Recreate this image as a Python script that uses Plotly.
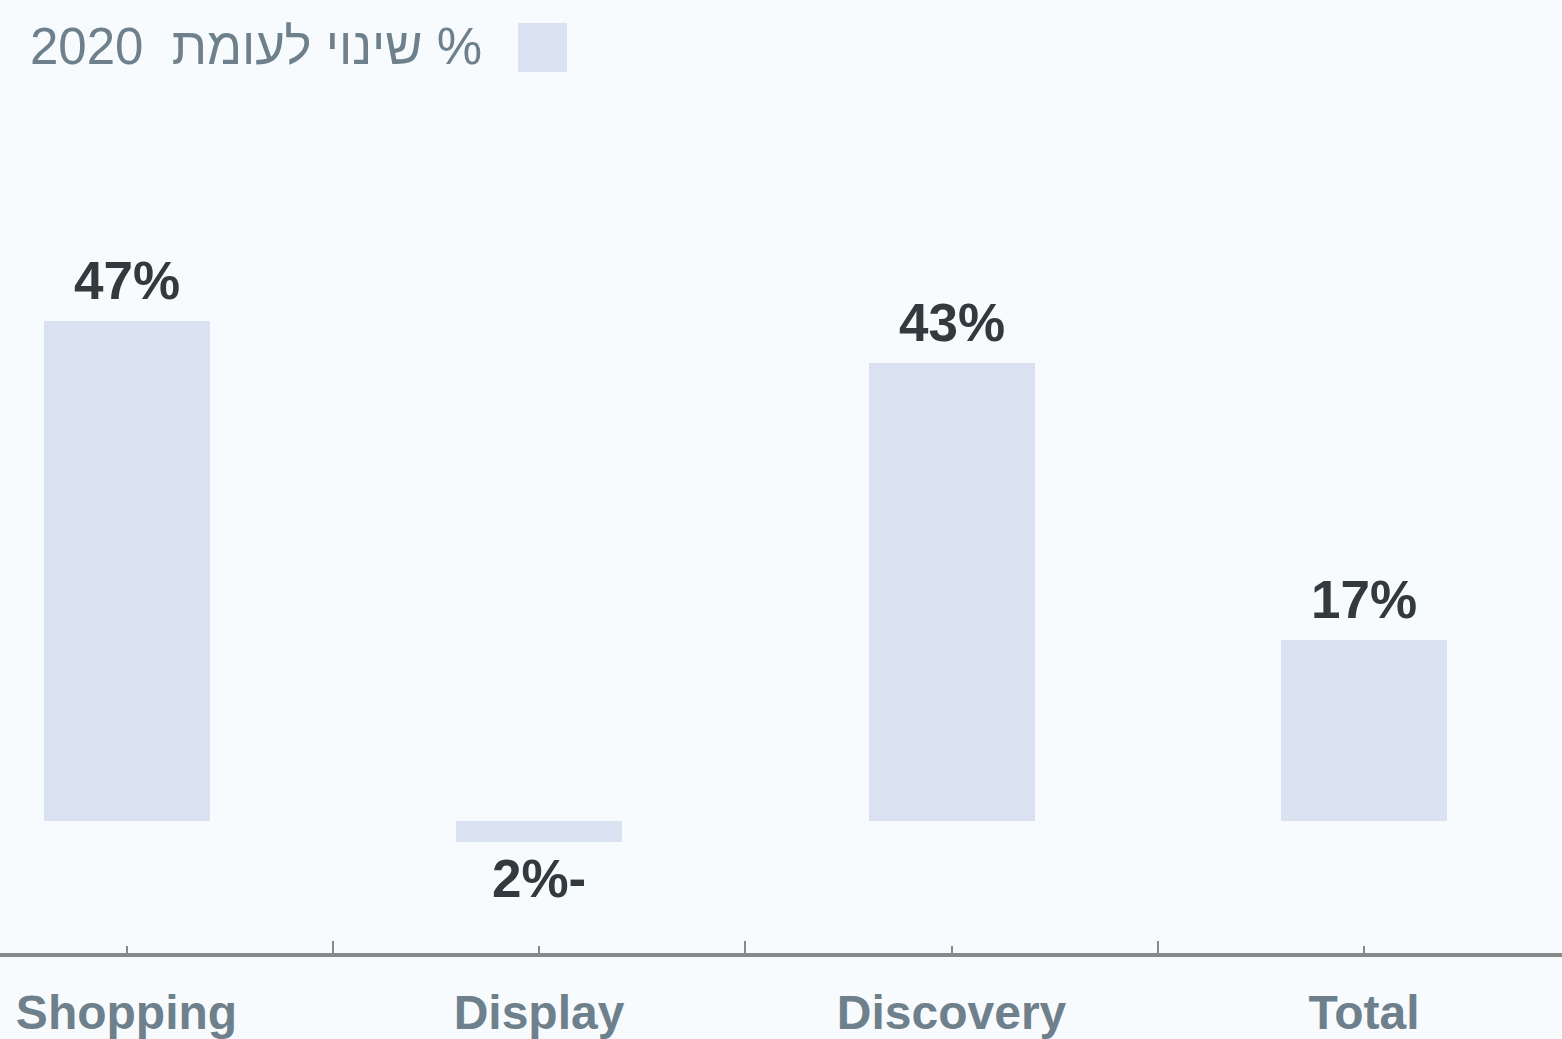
import plotly.graph_objects as go

# Change in volume vs. 2020, by campaign type
categories = ["Shopping", "Display", "Discovery", "Total"]
change_pct = [47, -2, 43, 17]
legend_label = "\u202B% שינוי לעומת\u00a0\u00a02020\u202C"

BAR_COLOR = "#dae2f1"
AXIS_COLOR = "#888888"
LABEL_COLOR = "#6e808c"
VALUE_COLOR = "#323a3d"
FONT = "Liberation Sans, Arial, sans-serif"

W, H = 1562, 1039
MARGIN_B = 86
PLOT_H = H - MARGIN_B

x_pos = list(range(len(categories)))

fig = go.Figure()
fig.add_trace(go.Bar(
    x=x_pos,
    y=change_pct,
    width=0.4024,
    marker=dict(color=BAR_COLOR, line=dict(width=0)),
    showlegend=False,
    hoverinfo="skip",
))


def pct_text(v):
    return f"{abs(v)}%-" if v < 0 else f"{v}%"


for xi, v in zip(x_pos, change_pct):
    fig.add_annotation(
        x=xi, y=v, xref="x", yref="y",
        text=f"<b>{pct_text(v)}</b>",
        showarrow=False,
        yanchor="bottom" if v >= 0 else "top",
        yshift=9 if v >= 0 else -5,
        font=dict(family=FONT, size=53, color=VALUE_COLOR),
    )

# Legend: label text with the swatch to its right
fig.add_annotation(
    x=484 / W, y=1 - 47 / PLOT_H, xref="paper", yref="paper",
    text=legend_label, showarrow=False,
    xanchor="right", yanchor="middle",
    font=dict(family=FONT, size=51, color="#6e808c"),
)
fig.add_shape(
    type="rect", xref="paper", yref="paper",
    x0=518 / W, x1=567 / W, y0=1 - 72 / PLOT_H, y1=1 - 23 / PLOT_H,
    fillcolor=BAR_COLOR, line=dict(width=0), layer="above",
)

fig.update_layout(
    width=W, height=H,
    margin=dict(l=0, r=0, t=0, b=MARGIN_B),
    paper_bgcolor="#f8fbfe",
    plot_bgcolor="rgba(0,0,0,0)",
    bargap=0,
)
fig.update_xaxes(
    range=[-0.3067, 3.480],
    tickmode="array",
    tickvals=x_pos,
    ticktext=categories,
    tickfont=dict(family=FONT, size=48, color=LABEL_COLOR, weight="bold"),
    ticklabelstandoff=14,
    ticks="inside", ticklen=7, tickwidth=2, tickcolor=AXIS_COLOR,
    minor=dict(tickmode="array", tickvals=[0.5, 1.5, 2.5], ticks="inside",
               ticklen=12, tickwidth=2, tickcolor=AXIS_COLOR),
    showline=True, linecolor=AXIS_COLOR, linewidth=4,
    showgrid=False, zeroline=False,
    fixedrange=True,
)
fig.update_yaxes(
    range=[-12.41, 77.16],
    visible=False,
    showgrid=False, zeroline=False,
    fixedrange=True,
)

fig.write_html("out.html", config={"displayModeBar": False})
